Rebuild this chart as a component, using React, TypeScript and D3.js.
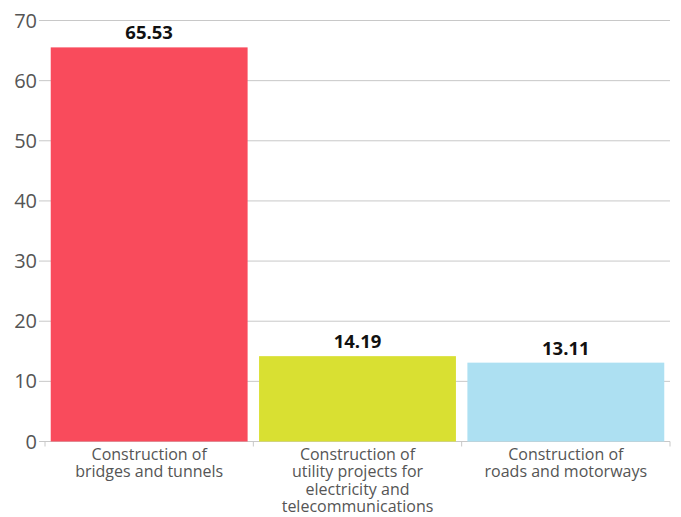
import React from "react";
import * as d3 from "d3";

const categories: string[][] = [
  ["Construction of", "bridges and tunnels"],
  ["Construction of", "utility projects for", "electricity and", "telecommunications"],
  ["Construction of", "roads and motorways"],
];
const values = [65.53, 14.19, 13.11];
const valueLabels = ["65.53", "14.19", "13.11"];
const colors = ["#F94B5C", "#D9E032", "#ADE0F2"];
const yTicks = [0, 10, 20, 30, 40, 50, 60, 70];

const W = 681;
const H = 517;
const left = 45;
const right = 670;
const top = 20.5;
const bottom = 441.5;

export default function App() {
  const x = d3
    .scaleBand<number>()
    .domain(values.map((_, i) => i))
    .range([left, right])
    .paddingInner(0.055)
    .paddingOuter(0.0275);
  const y = d3.scaleLinear().domain([0, 70]).range([bottom, top]);
  const step = x.step();
  const font = "'Open Sans', 'Noto Sans', sans-serif";
  const xTickPos = [left, ...values.map((_, i) => left + step * (i + 1))];

  return (
    <svg
      width={W}
      height={H}
      style={{ position: "absolute", left: 0, top: 0, background: "#fff" }}
      fontFamily={font}
    >
      {yTicks.map((t) => (
        <g key={t}>
          <line x1={left} x2={right} y1={y(t)} y2={y(t)} stroke="#c8c8c8" strokeWidth={1} />
          <line x1={left - 6} x2={left} y1={y(t)} y2={y(t)} stroke="#c8c8c8" strokeWidth={1} />
          <text x={37} y={y(t)} dy="0.35em" textAnchor="end" fontSize={20} fill="#555">
            {t}
          </text>
        </g>
      ))}
      {values.map((v, i) => (
        <g key={i}>
          <rect
            x={x(i)!}
            y={y(v)}
            width={x.bandwidth()}
            height={y(0) - y(v)}
            fill={colors[i]}
          />
          <text
            x={x(i)! + x.bandwidth() / 2}
            y={y(v) - 8}
            textAnchor="middle"
            fontSize={18.5}
            fontWeight="bold"
            fill="#111"
          >
            {valueLabels[i]}
          </text>
          {categories[i].map((line, j) => (
            <text
              key={j}
              x={x(i)! + x.bandwidth() / 2}
              y={459.5 + j * 17.5}
              textAnchor="middle"
              fontSize={16}
              fill="#555"
            >
              {line}
            </text>
          ))}
        </g>
      ))}
      {xTickPos.map((p, i) => (
        <line key={i} x1={p} x2={p} y1={bottom} y2={bottom + 5} stroke="#c8c8c8" strokeWidth={1} />
      ))}
    </svg>
  );
}
